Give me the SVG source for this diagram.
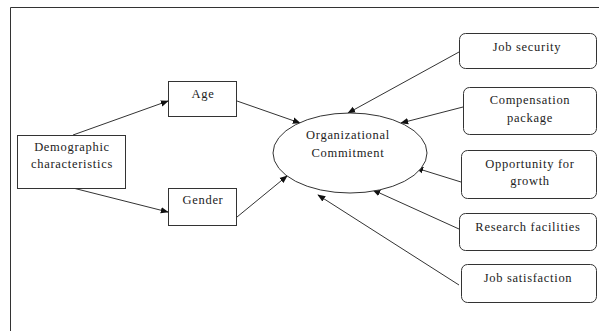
<svg xmlns="http://www.w3.org/2000/svg" width="599" height="331" viewBox="0 0 599 331">
<style>
.box{fill:#fff;stroke:#333;stroke-width:1}
text{font-family:'Liberation Serif','DejaVu Serif',serif;font-size:12.5px;fill:#222;text-anchor:middle;letter-spacing:0.7px}
.c{stroke:#333;stroke-width:1;fill:none;marker-end:url(#ah)}
</style>
<defs>
<marker id="ah" viewBox="0 0 10 10" refX="9" refY="5" markerWidth="8" markerHeight="8" markerUnits="userSpaceOnUse" orient="auto">
<path d="M0,1 L10,5 L0,9 Z" fill="#111"/>
</marker>
</defs>
<rect width="599" height="331" fill="#fff"/>
<path d="M10.5,331 V7.5 H599" fill="none" stroke="#333" stroke-width="1"/>
<g id="connectors">
<line class="c" x1="73" y1="135" x2="168" y2="101"/>
<line class="c" x1="73" y1="188" x2="168" y2="212"/>
<line class="c" x1="237" y1="101" x2="300" y2="123"/>
<line class="c" x1="237" y1="217" x2="287" y2="176"/>
<line class="c" x1="459" y1="52" x2="348" y2="113"/>
<line class="c" x1="463" y1="107" x2="401" y2="123"/>
<line class="c" x1="461" y1="182" x2="416" y2="168"/>
<line class="c" x1="459" y1="229" x2="373" y2="190"/>
<line class="c" x1="459" y1="285" x2="318" y2="195"/>
</g>
<g id="demographic">
<rect class="box" x="17.5" y="135.5" width="108" height="53"/>
<text x="72" y="151">Demographic</text>
<text x="72" y="168">characteristics</text>
</g>
<g id="age">
<rect class="box" x="168.5" y="81.5" width="68" height="35"/>
<text x="203" y="98">Age</text>
</g>
<g id="gender">
<rect class="box" x="168.5" y="188.5" width="68" height="37"/>
<text x="203" y="204">Gender</text>
</g>
<g id="commitment">
<ellipse class="box" cx="350" cy="153" rx="77" ry="40"/>
<text x="348" y="139">Organizational</text>
<text x="348" y="157">Commitment</text>
</g>
<g id="jobsecurity">
<rect class="box" x="459.5" y="33.5" width="137" height="35" rx="6"/>
<text x="527" y="51">Job security</text>
</g>
<g id="compensation">
<rect class="box" x="463.5" y="87.5" width="133" height="47" rx="6"/>
<text x="530" y="104">Compensation</text>
<text x="530" y="122">package</text>
</g>
<g id="opportunity">
<rect class="box" x="461.5" y="150.5" width="135" height="48" rx="6"/>
<text x="530" y="168">Opportunity  for</text>
<text x="530" y="185">growth</text>
</g>
<g id="research">
<rect class="box" x="459.5" y="213.5" width="137" height="37" rx="6"/>
<text x="528" y="231">Research  facilities</text>
</g>
<g id="jobsatisfaction">
<rect class="box" x="461.5" y="264.5" width="135" height="38" rx="6"/>
<text x="528" y="282">Job satisfaction</text>
</g>
</svg>
